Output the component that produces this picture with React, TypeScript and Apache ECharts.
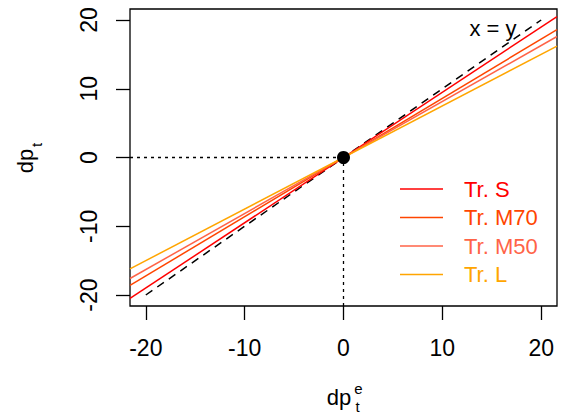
import React, { useEffect, useRef } from "react";
import * as echarts from "echarts";

const FONT = "Liberation Sans, Arial, Helvetica, sans-serif";

// axis range and ticks
const axisMin = -21.6;
const axisMax = 21.6;
const tickValues = [-20, -10, 0, 10, 20];

// series names and colours
const seriesNames = ["Tr. S", "Tr. M70", "Tr. M50", "Tr. L"];
const seriesColors = ["#FF0000", "#FF4500", "#FF6347", "#FFA500"];

// line endpoints (x at plot edges, y values)
const lineX = [-21.6, 21.6];
const trS = [-20.5, 20.5];
const trM70 = [-18.6, 18.6];
const trM50 = [-17.6, 17.6];
const trL = [-16.2, 16.2];
const seriesValues = [trS, trM70, trM50, trL];

// reference x = y line
const diagX = [-20, 20];
const diagY = [-20, 20];

// dotted guide lines to origin
const hGuideX = [-21.6, 0];
const hGuideY = [0, 0];
const vGuideX = [0, 0];
const vGuideY = [-21.6, 0];

const origin = [0, 0];

export default function App() {
  const ref = useRef<HTMLDivElement>(null);

  useEffect(() => {
    if (!ref.current) return;
    const chart = echarts.init(ref.current, undefined, { renderer: "svg" });

    const zip = (xs: number[], ys: number[]) => xs.map((x, i) => [x, ys[i]]);

    const colored = seriesNames.map((name, i) => ({
      name,
      type: "line",
      data: zip(lineX, seriesValues[i]),
      showSymbol: false,
      symbol: "none",
      lineStyle: { color: seriesColors[i], width: 1.5 },
      itemStyle: { color: seriesColors[i] },
      z: 3,
    }));

    const axisCommon = (rotate: number) => ({
      type: "value",
      min: axisMin,
      max: axisMax,
      splitLine: { show: false },
      axisLine: { show: false, onZero: false },
      axisTick: {
        show: true,
        length: 14,
        customValues: tickValues,
        lineStyle: { color: "#000", width: 1.3 },
      },
      axisLabel: {
        customValues: tickValues,
        fontSize: 23,
        fontFamily: FONT,
        color: "#000",
        rotate,
        margin: 30,
      },
    });

    const option: any = {
      animation: false,
      backgroundColor: "#fff",
      grid: {
        left: 130,
        top: 9,
        width: 427,
        height: 297,
        show: true,
        borderColor: "#000",
        borderWidth: 1.3,
        backgroundColor: "transparent",
      },
      xAxis: axisCommon(0),
      yAxis: axisCommon(90),
      legend: {
        orient: "vertical",
        left: 400,
        top: 178,
        padding: 0,
        itemGap: 6.5,
        itemWidth: 43,
        itemHeight: 1.5,
        icon: "rect",
        data: seriesNames.map((n, i) => ({
          name: n,
          textStyle: { color: seriesColors[i] },
        })),
        textStyle: {
          fontSize: 22,
          fontFamily: FONT,
          padding: [0, 0, 0, 16],
        },
      },
      graphic: [
        {
          type: "text",
          x: 493,
          y: 28,
          style: {
            text: "x = y",
            fontSize: 22,
            fontFamily: FONT,
            fill: "#000",
            align: "center",
            verticalAlign: "middle",
          },
          z: 10,
        },
        {
          type: "text",
          x: 339,
          y: 397,
          style: {
            text: "dp",
            fontSize: 22,
            fontFamily: FONT,
            fill: "#000",
            align: "center",
            verticalAlign: "middle",
          },
        },
        {
          type: "text",
          x: 358.5,
          y: 388,
          style: {
            text: "e",
            fontSize: 15,
            fontFamily: FONT,
            fill: "#000",
            align: "center",
            verticalAlign: "middle",
          },
        },
        {
          type: "text",
          x: 357.5,
          y: 406,
          style: {
            text: "t",
            fontSize: 15,
            fontFamily: FONT,
            fill: "#000",
            align: "center",
            verticalAlign: "middle",
          },
        },
        {
          type: "text",
          x: 25,
          y: 161,
          rotation: Math.PI / 2,
          style: {
            text: "dp",
            fontSize: 22,
            fontFamily: FONT,
            fill: "#000",
            align: "center",
            verticalAlign: "middle",
          },
        },
        {
          type: "text",
          x: 36,
          y: 145,
          rotation: Math.PI / 2,
          style: {
            text: "t",
            fontSize: 15,
            fontFamily: FONT,
            fill: "#000",
            align: "center",
            verticalAlign: "middle",
          },
        },
      ],
      series: [
        {
          name: "hguide",
          type: "line",
          data: zip(hGuideX, hGuideY),
          symbol: "none",
          lineStyle: { color: "#000", width: 1.3, type: [3, 4] },
          z: 1,
        },
        {
          name: "vguide",
          type: "line",
          data: zip(vGuideX, vGuideY),
          symbol: "none",
          lineStyle: { color: "#000", width: 1.3, type: [3, 4] },
          z: 1,
        },
        {
          name: "x = y",
          type: "line",
          data: zip(diagX, diagY),
          symbol: "none",
          lineStyle: { color: "#000", width: 1.5, type: [8, 6] },
          z: 2,
        },
        ...colored,
        {
          name: "origin",
          type: "scatter",
          data: [origin],
          symbolSize: 13,
          itemStyle: { color: "#000", opacity: 1 },
          z: 5,
        },
      ],
    };

    chart.setOption(option);
    return () => chart.dispose();
  }, []);

  return <div ref={ref} style={{ width: 564, height: 419, position: "absolute", left: 0, top: 0 }} />;
}
